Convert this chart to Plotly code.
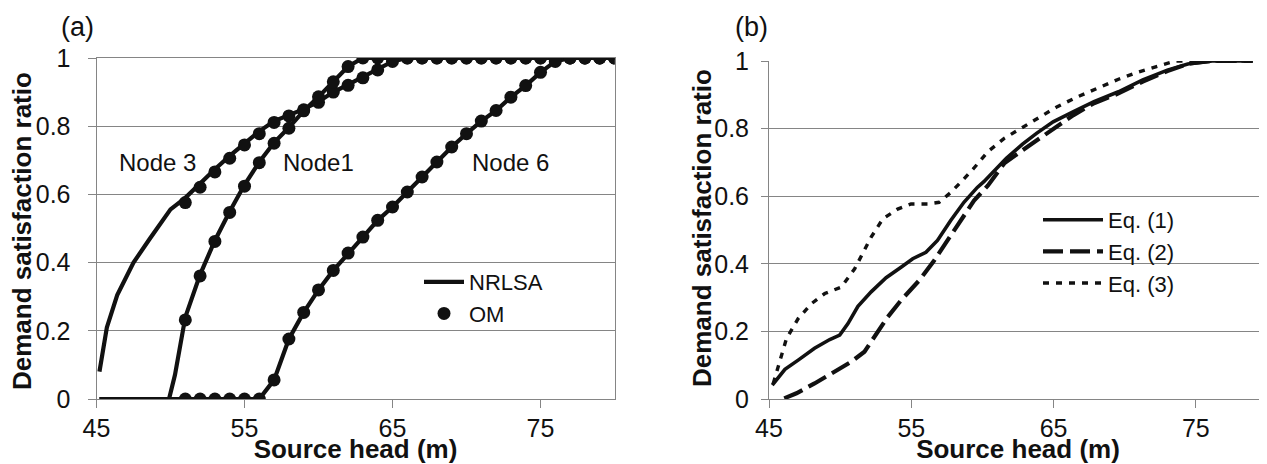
import plotly.graph_objects as go

# ---------------- Panel (a) data ----------------
om_x = list(range(51, 81))
om_node3 = [0.576, 0.621, 0.666, 0.706, 0.745, 0.778, 0.811, 0.830, 0.848, 0.870,
            0.900, 0.920, 0.942, 0.965, 0.990] + [1.0] * 15
om_node1 = [0.232, 0.361, 0.462, 0.547, 0.624, 0.693, 0.750, 0.794, 0.845, 0.886,
            0.930, 0.975] + [1.0] * 18
om_node6 = [0.0, 0.0, 0.0, 0.0, 0.0, 0.0, 0.056, 0.176, 0.254, 0.320, 0.377, 0.428,
            0.475, 0.524, 0.563, 0.607, 0.651, 0.695, 0.739, 0.778, 0.815, 0.846,
            0.885, 0.919, 0.958, 0.990, 1.0, 1.0, 1.0, 1.0]

nr3_x = [45.2, 45.7, 46.4, 47.5, 48.6, 50, 51, 52, 53, 54, 55, 56, 57, 58, 59, 60,
         61, 62, 63, 64, 65, 66, 80]
nr3_y = [0.08, 0.21, 0.305, 0.40, 0.47, 0.556, 0.59, 0.633, 0.674, 0.713, 0.75,
         0.785, 0.815, 0.833, 0.85, 0.872, 0.90, 0.922, 0.944, 0.967, 0.99, 1.0, 1.0]
nr1_x = [45.2, 49.9, 50.3, 51, 52, 53, 54, 55, 56, 57, 58, 59, 60, 61, 62, 63, 80]
nr1_y = [0.0, 0.0, 0.07, 0.24, 0.365, 0.465, 0.55, 0.628, 0.695, 0.752, 0.796,
         0.845, 0.886, 0.93, 0.975, 1.0, 1.0]
nr6_x = [45.2] + list(range(56, 81))
nr6_y = [0.0, 0.0, 0.056, 0.176, 0.254, 0.320, 0.377, 0.428, 0.475, 0.524, 0.563,
         0.607, 0.651, 0.695, 0.739, 0.778, 0.815, 0.846, 0.885, 0.919, 0.958,
         0.990, 1.0, 1.0, 1.0, 1.0]

node_labels = ["Node 3", "Node1", "Node 6"]
node_label_x = [49.1, 60.0, 73.0]
node_label_y = [0.695, 0.695, 0.695]

# ---------------- Panel (b) data ----------------
eq1_x = [45.23, 46.12, 47.05, 48.2, 49.27, 49.97, 50.55, 51.25, 52.18, 53.23, 54.28,
         55.1, 56.03, 56.84, 57.77, 58.7, 59.64, 60.1, 61.68, 62.82, 63.8, 64.97,
         66.4, 67.84, 69.56, 71.27, 73.0, 74.43, 76.15, 79.0]
eq1_y = [0.041, 0.088, 0.115, 0.15, 0.176, 0.189, 0.223, 0.274, 0.317, 0.359, 0.39,
         0.415, 0.434, 0.469, 0.528, 0.582, 0.626, 0.643, 0.712, 0.754, 0.786, 0.82,
         0.85, 0.88, 0.909, 0.944, 0.973, 0.991, 1.0, 1.0]
eq2_x = [46.07, 46.93, 48.2, 49.6, 50.78, 51.71, 52.41, 53.35, 54.28, 55.56, 56.61,
         57.54, 58.47, 59.41, 60.39, 61.53, 62.68, 63.83, 64.97, 66.4, 67.84, 69.56,
         71.27, 73.0, 74.57, 76.15, 79.0]
eq2_y = [0.002, 0.017, 0.046, 0.08, 0.11, 0.14, 0.184, 0.243, 0.292, 0.351, 0.41,
         0.469, 0.528, 0.587, 0.632, 0.697, 0.732, 0.766, 0.80, 0.84, 0.875, 0.904,
         0.939, 0.97, 0.993, 1.0, 1.0]
eq3_x = [45.3, 45.77, 46.23, 47.05, 47.98, 48.92, 50.08, 51.02, 51.6, 52.18, 53.0,
         54.04, 54.98, 56.14, 56.96, 57.77, 58.47, 59.38, 60.39, 61.53, 62.68, 63.83,
         65.26, 66.69, 68.12, 69.56, 71.0, 72.42, 73.57, 79.0]
eq3_y = [0.046, 0.11, 0.179, 0.238, 0.282, 0.312, 0.331, 0.385, 0.43, 0.479, 0.533,
         0.562, 0.577, 0.577, 0.582, 0.611, 0.641, 0.682, 0.732, 0.771, 0.80, 0.83,
         0.865, 0.894, 0.919, 0.946, 0.968, 0.986, 1.0, 1.0]

x_ticks = [45, 55, 65, 75]
x_tick_labels = ["45", "55", "65", "75"]
y_ticks = [0, 0.2, 0.4, 0.6, 0.8, 1.0]
y_tick_labels = ["0", "0.2", "0.4", "0.6", "0.8", "1"]

INK = "#111111"
GRID = "#858585"
FONT = "Liberation Sans, Arial, sans-serif"
# the page body adds an 8 px margin, so the figure is 8 px smaller each way
W, H = 1259, 456

fig = go.Figure()

# Panel (a) lines
for i, (xs, ys) in enumerate([(nr3_x, nr3_y), (nr1_x, nr1_y), (nr6_x, nr6_y)]):
    fig.add_trace(go.Scatter(x=xs, y=ys, mode="lines", name="NRLSA",
                             line=dict(color=INK, width=4.2),
                             showlegend=(i == 0), legend="legend",
                             xaxis="x", yaxis="y", hoverinfo="skip"))
for i, ys in enumerate([om_node3, om_node1, om_node6]):
    fig.add_trace(go.Scatter(x=om_x, y=ys, mode="markers", name="OM",
                             marker=dict(color=INK, size=13, line=dict(width=0)),
                             showlegend=(i == 0), legend="legend",
                             xaxis="x", yaxis="y", hoverinfo="skip"))

# Panel (b) lines
fig.add_trace(go.Scatter(x=eq1_x, y=eq1_y, mode="lines", name="Eq. (1)",
                         line=dict(color=INK, width=3.6),
                         legend="legend2", xaxis="x2", yaxis="y2"))
fig.add_trace(go.Scatter(x=eq2_x, y=eq2_y, mode="lines", name="Eq. (2)",
                         line=dict(color=INK, width=4.2, dash="20px,7px"),
                         legend="legend2", xaxis="x2", yaxis="y2"))
fig.add_trace(go.Scatter(x=eq3_x, y=eq3_y, mode="lines", name="Eq. (3)",
                         line=dict(color=INK, width=3.4, dash="6px,7px"),
                         legend="legend2", xaxis="x2", yaxis="y2"))

for txt, xv, yv in zip(node_labels, node_label_x, node_label_y):
    fig.add_annotation(x=xv, y=yv, xref="x", yref="y", text=txt, showarrow=False,
                       xanchor="center", yanchor="middle",
                       font=dict(family=FONT, size=24, color=INK))

fig.add_annotation(x=69 / W, y=1 - 19 / H, xref="paper", yref="paper", text="(a)",
                   showarrow=False, xanchor="center", yanchor="middle",
                   font=dict(family=FONT, size=27, color=INK))
fig.add_annotation(x=743 / W, y=1 - 19 / H, xref="paper", yref="paper", text="(b)",
                   showarrow=False, xanchor="center", yanchor="middle",
                   font=dict(family=FONT, size=27, color=INK))

tick_font = dict(family=FONT, size=25, color=INK)
title_font = dict(family=FONT, size=26, color=INK, weight="bold")

# y-axis titles
fig.add_annotation(x=14 / W, y=1 - 223 / H, xref="paper", yref="paper",
                   text="Demand satisfaction ratio", textangle=-90, showarrow=False,
                   xanchor="center", yanchor="middle", font=title_font)
fig.add_annotation(x=694 / W, y=1 - 220 / H, xref="paper", yref="paper",
                   text="Demand satisfaction ratio", textangle=-90, showarrow=False,
                   xanchor="center", yanchor="middle", font=title_font)


def xaxis_cfg(domain, anchor, mirror):
    return dict(domain=domain, anchor=anchor, range=[45, 80], tickvals=x_ticks,
                ticktext=x_tick_labels, ticks="outside", ticklen=8, tickcolor=GRID,
                showgrid=False, zeroline=False, showline=True, linecolor=GRID,
                linewidth=1, mirror=mirror, tickfont=tick_font, ticklabelstandoff=-1,
                automargin=False,
                title=dict(text="Source head (m)", font=title_font, standoff=9))


def yaxis_cfg(domain, anchor, mirror, standoff, ticklen):
    return dict(domain=domain, anchor=anchor, range=[0, 1.0], tickvals=y_ticks,
                ticktext=y_tick_labels, ticks="outside", ticklen=ticklen,
                tickcolor=GRID, showgrid=True, gridcolor=GRID, gridwidth=1,
                zeroline=False, showline=True, linecolor=GRID, linewidth=1,
                mirror=mirror, tickfont=tick_font, ticklabelstandoff=standoff,
                automargin=False)


fig.update_layout(
    template="none",
    width=W, height=H,
    margin=dict(l=0, r=0, t=0, b=0, pad=0),
    paper_bgcolor="white", plot_bgcolor="white",
    font=dict(family=FONT, color=INK),
    xaxis=xaxis_cfg([88.5 / W, 606.5 / W], "y", True),
    yaxis=yaxis_cfg([65 / H, 406 / H], "x", True, 12, 8),
    xaxis2=xaxis_cfg([761 / W, 1.0], "y2", False),
    yaxis2=yaxis_cfg([65 / H, 403 / H], "x2", False, 7, 7),
    legend=dict(x=411 / W, y=1 - 253 / H, xanchor="left", yanchor="top",
                bgcolor="rgba(0,0,0,0)", font=dict(family=FONT, size=22, color=INK),
                itemwidth=40, tracegroupgap=0),
    legend2=dict(x=1030 / W, y=1 - 191 / H, xanchor="left", yanchor="top",
                 bgcolor="rgba(0,0,0,0)", font=dict(family=FONT, size=22, color=INK),
                 itemwidth=60, tracegroupgap=0),
    hovermode=False,
)

fig.write_html("out.html")
